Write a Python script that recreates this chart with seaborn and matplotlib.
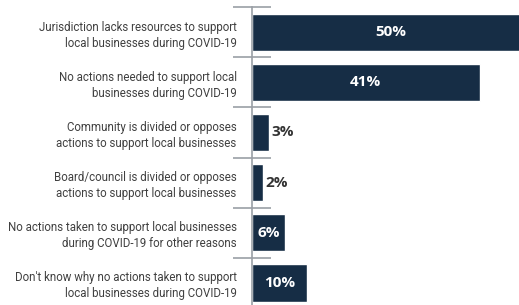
import matplotlib
matplotlib.use("Agg")
import matplotlib.pyplot as plt
import seaborn as sns
import pandas as pd

# Data
reasons = [
    "Jurisdiction lacks resources to support\nlocal businesses during COVID-19",
    "No actions needed to support local\nbusinesses during COVID-19",
    "Community is divided or opposes\nactions to support local businesses",
    "Board/council is divided or opposes\nactions to support local businesses",
    "No actions taken to support local businesses\nduring COVID-19 for other reasons",
    "Don't know why no actions taken to support\nlocal businesses during COVID-19",
]
shares = [50, 41, 3, 2, 6, 10]

NAVY = "#162d45"
GREY = "#9a9fa5"

sns.set_style("white")
df = pd.DataFrame({"reason": reasons, "share": shares})

fig = plt.figure(figsize=(5.19, 3.05), dpi=100)
ax = fig.add_axes([0.4855, -0.01, 0.5145, 0.987])
sns.barplot(data=df, y="reason", x="share", orient="h", color=NAVY,
            saturation=1, width=0.74, ax=ax)

ax.set_xlim(0, 48.1)
ax.set_ylim(5.5, -0.5)
ax.set_xlabel("")
ax.set_ylabel("")
ax.set_xticks([])

for s in ["top", "right", "bottom"]:
    ax.spines[s].set_visible(False)
ax.spines["left"].set_color(GREY)
ax.spines["left"].set_linewidth(1.2)

# separator ticks between categories
ax.set_yticks([i - 0.5 for i in range(len(reasons) + 1)], minor=True)
ax.tick_params(axis="y", which="minor", left=True, length=27, width=1.2,
               direction="inout", color=GREY)
ax.tick_params(axis="y", which="major", length=0, pad=11)
for lab in ax.get_yticklabels():
    lab.set_family(["Roboto", "DejaVu Sans"])
    lab.set_fontsize(8.3)
    lab.set_color("#404040")
    lab.set_linespacing(1.3)

# value labels
for i, v in enumerate(shares):
    if v >= 5:
        ax.text(v / 2, i, f"{v}%", ha="center", va="center", color="white",
                fontsize=11, fontweight="bold", family=["Open Sans", "DejaVu Sans"])
    else:
        ax.text(v + 0.5, i, f"{v}%", ha="left", va="center", color="#333333",
                fontsize=11, fontweight="bold", family=["Open Sans", "DejaVu Sans"])

fig.savefig("out.png", dpi=100)
